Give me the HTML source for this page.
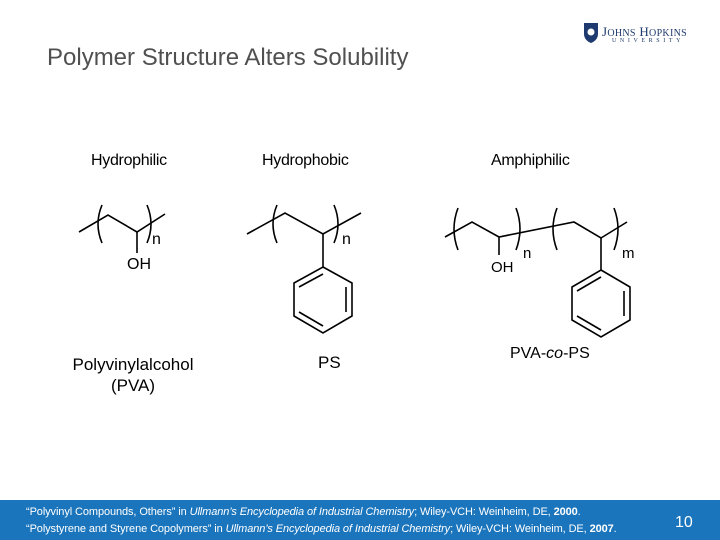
<!DOCTYPE html>
<html><head><meta charset="utf-8"><style>
body{margin:0;width:720px;height:540px;overflow:hidden;background:#fff;font-family:"Liberation Sans",sans-serif;position:relative}
.a{position:absolute;white-space:nowrap}
</style></head><body>
<div class="a" style="left:47px;top:44px;font-size:24px;color:#505050">Polymer Structure Alters Solubility</div>
<svg class="a" style="left:583px;top:22px" width="16" height="22" viewBox="0 0 16 22"><path d="M1 1h14v11c0 5-4 8-7 9c-3-1-7-4-7-9z" fill="#1f3a6e"/><circle cx="8" cy="10" r="3.5" fill="#fff"/></svg>
<div class="a" style="left:602px;top:24px;font-family:'Liberation Serif',serif;font-size:13px;color:#1f3a6e;letter-spacing:0.3px">J<span style="font-size:10px">OHNS</span> H<span style="font-size:10px">OPKINS</span></div>
<div class="a" style="left:612px;top:38px;font-family:'Liberation Serif',serif;font-size:6px;color:#1f3a6e;letter-spacing:3.6px">UNIVERSITY</div>

<div class="a" style="left:91px;top:152px;font-size:16px;letter-spacing:-0.3px">Hydrophilic</div>
<div class="a" style="left:262px;top:152px;font-size:16px;letter-spacing:-0.3px">Hydrophobic</div>
<div class="a" style="left:491px;top:152px;font-size:16px;letter-spacing:-0.3px">Amphiphilic</div>

<svg class="a" style="left:0;top:0" width="720" height="540" viewBox="0 0 720 540" fill="none" stroke="#000" stroke-width="1.6">
<polyline points="79,232 108,215 137,232 165,214"/><line x1="137" y1="232" x2="137" y2="253"/>
<path d="M102,205 Q94,224 102,243"/><path d="M147,205 Q155,224 147,243"/>
<polyline points="247,234 285,213 323,234 361,213"/><line x1="323" y1="234" x2="323" y2="267"/>
<path d="M277,205 Q269,224 277,243"/><path d="M334,205 Q342,224 334,243"/>
<polygon points="323,267 352,283 352,316 323,333 294,316 294,283"/>
<line x1="323" y1="274" x2="299" y2="287"/><line x1="346" y1="287" x2="346" y2="312"/><line x1="299" y1="312" x2="323" y2="326"/>
<polyline points="445,237 472,222 499,237 574,222 601,238 627,222"/><line x1="499" y1="237" x2="499" y2="255"/><line x1="601" y1="238" x2="601" y2="270"/>
<path d="M458,208 Q450,229 458,250"/><path d="M516,208 Q524,229 516,250"/>
<path d="M557,208 Q549,229 557,250"/><path d="M614,208 Q622,229 614,250"/>
<polygon points="601,270 630,287 630,320 601,337 572,320 572,287"/>
<line x1="601" y1="277" x2="577" y2="291"/><line x1="624" y1="291" x2="624" y2="316"/><line x1="577" y1="316" x2="601" y2="330"/>
</svg>
<div class="a" style="left:152px;top:231px;font-size:16px">n</div>
<div class="a" style="left:127px;top:256px;font-size:16px">OH</div>
<div class="a" style="left:342px;top:231px;font-size:16px">n</div>
<div class="a" style="left:523px;top:245px;font-size:15px">n</div>
<div class="a" style="left:491px;top:259px;font-size:15px">OH</div>
<div class="a" style="left:622px;top:245px;font-size:15px">m</div>

<div class="a" style="left:68px;top:354px;font-size:17px;width:130px;text-align:center;line-height:21px">Polyvinylalcohol<br>(PVA)</div>
<div class="a" style="left:318px;top:353px;font-size:17px">PS</div>
<div class="a" style="left:510px;top:345px;font-size:16px">PVA-<i>co</i>-PS</div>

<div class="a" style="left:0;top:500px;width:720px;height:40px;background:#1b75bc"></div>
<div class="a" style="left:26px;top:504px;font-size:11px;color:#fff;line-height:17px;letter-spacing:-0.1px">“Polyvinyl Compounds, Others” in <i>Ullmann’s Encyclopedia of Industrial Chemistry</i>; Wiley-VCH: Weinheim, DE, <b>2000</b>.<br>“Polystyrene and Styrene Copolymers” in <i>Ullmann’s Encyclopedia of Industrial Chemistry</i>; Wiley-VCH: Weinheim, DE, <b>2007</b>.</div>
<div class="a" style="left:675px;top:514px;font-size:16px;color:#fff">10</div>
</body></html>
